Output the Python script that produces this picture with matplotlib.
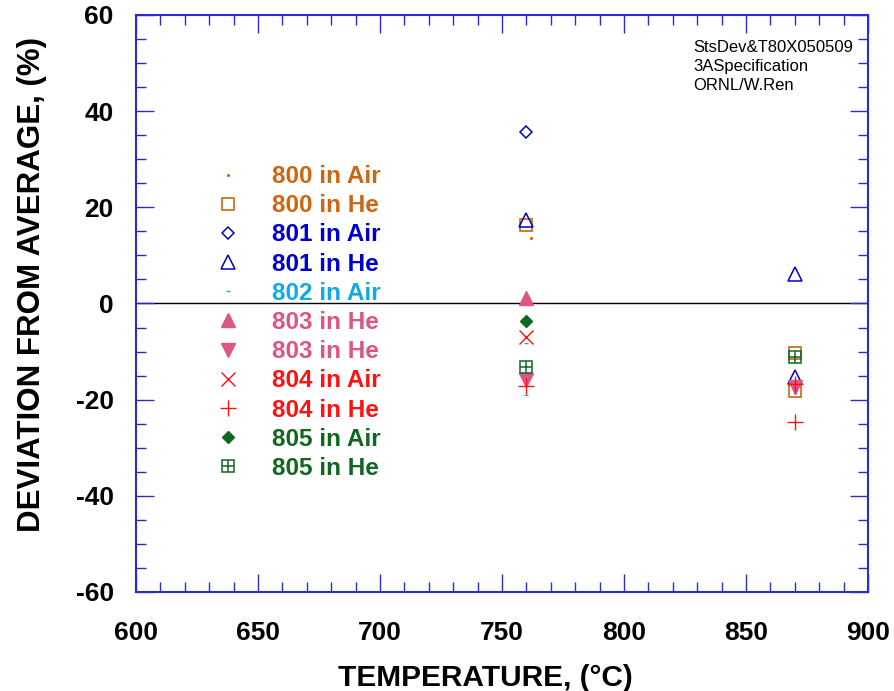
import matplotlib
matplotlib.use("Agg")
import matplotlib.pyplot as plt
from matplotlib.legend_handler import HandlerTuple
from matplotlib.ticker import MultipleLocator

# ---- data ----
s800_air_x = [762]
s800_air_y = [13.6]
s800_he_x = [760, 870, 870]
s800_he_y = [16.3, -10.3, -18.3]
s801_air_x = [760]
s801_air_y = [35.7]
s801_he_x = [760, 870, 870]
s801_he_y = [17.4, 6.1, -15.2]
s802_air_x = [760, 760, 870]
s802_air_y = [-8.2, -19.0, -18.6]
s803_he_up_x = [760]
s803_he_up_y = [1.1]
s803_he_dn_x = [760, 870]
s803_he_dn_y = [-16.0, -17.4]
s804_air_x = [760]
s804_air_y = [-6.9]
s804_he_x = [760, 870, 870]
s804_he_y = [-17.1, -16.7, -24.6]
s805_air_x = [760]
s805_air_y = [-3.6]
s805_he_x = [760, 870]
s805_he_y = [-13.3, -11.1]

labels = ["800 in Air", "800 in He", "801 in Air", "801 in He", "802 in Air",
          "803 in He", "803 in He", "804 in Air", "804 in He", "805 in Air", "805 in He"]

C800 = "#CC6611"
C801 = "#0000CC"
C802 = "#11AAE6"
C803 = "#DB5585"
C804 = "#FF1111"
C805 = "#116622"
SPINE = "#2A2AD8"

plt.rcParams["font.family"] = ["Liberation Sans", "DejaVu Sans"]
plt.rcParams["axes.unicode_minus"] = False

fig = plt.figure(figsize=(8.94, 6.91), dpi=100)
ax = fig.add_axes([0.1521, 0.1433, 0.8188, 0.8350])

ax.axhline(0, color="black", lw=1.0, zorder=1)

h = []
h.append(ax.plot(s800_air_x, s800_air_y, ls="none", marker=".", ms=2.5, color=C800)[0])
h.append(ax.plot(s800_he_x, s800_he_y, ls="none", marker="s", ms=9, mfc="none", mec=C800, mew=1.2)[0])
h.append(ax.plot(s801_air_x, s801_air_y, ls="none", marker="D", ms=6.5, mfc="none", mec=C801, mew=1.1)[0])
h.append(ax.plot(s801_he_x, s801_he_y, ls="none", marker="^", ms=9.5, mfc="none", mec=C801, mew=1.1)[0])
h.append(ax.plot(s802_air_x, s802_air_y, ls="none", marker="_", ms=3, mec=C802, mew=1.0)[0])
h.append(ax.plot(s803_he_up_x, s803_he_up_y, ls="none", marker="^", ms=9.5, color=C803)[0])
h.append(ax.plot(s803_he_dn_x, s803_he_dn_y, ls="none", marker="v", ms=9.5, color=C803)[0])
h.append(ax.plot(s804_air_x, s804_air_y, ls="none", marker="x", ms=9.5, mec=C804, mew=1.0)[0])
h.append(ax.plot(s804_he_x, s804_he_y, ls="none", marker="+", ms=11, mec=C804, mew=1.0)[0])
h.append(ax.plot(s805_air_x, s805_air_y, ls="none", marker="D", ms=6.5, color=C805)[0])
sq = ax.plot(s805_he_x, s805_he_y, ls="none", marker="s", ms=9, mfc="none", mec=C805, mew=1.1)[0]
pl = ax.plot(s805_he_x, s805_he_y, ls="none", marker="+", ms=9, mec=C805, mew=1.1)[0]
h.append((sq, pl))

colors = [C800, C800, C801, C801, C802, C803, C803, C804, C804, C805, C805]
leg = ax.legend(h, labels, loc="upper left", bbox_to_anchor=(0.109, 0.740),
                frameon=False, numpoints=1, handlelength=1.0, handletextpad=1.31,
                labelspacing=0.255, borderpad=0, borderaxespad=0,
                prop={"family": "Liberation Sans", "weight": "bold", "size": 17.5},
                handler_map={tuple: HandlerTuple(ndivide=1, pad=0)})
for t, c in zip(leg.get_texts(), colors):
    t.set_color(c)

ax.set_xlim(600, 900)
ax.set_ylim(-60, 60)
ax.xaxis.set_major_locator(MultipleLocator(50))
ax.xaxis.set_minor_locator(MultipleLocator(10))
ax.yaxis.set_major_locator(MultipleLocator(20))
ax.yaxis.set_minor_locator(MultipleLocator(5))
ax.tick_params(which="both", direction="in", top=True, right=True, color=SPINE, width=1.0)
ax.tick_params(which="major", length=13, labelsize=19)
ax.tick_params(axis="x", which="major", pad=21)
ax.tick_params(axis="y", which="major", pad=16)
ax.tick_params(which="minor", length=7)
for lab in ax.get_xticklabels() + ax.get_yticklabels():
    lab.set_fontweight("bold")
for s in ax.spines.values():
    s.set_color(SPINE)
    s.set_linewidth(1.5)

ax.set_xlabel("TEMPERATURE, (°C)", fontweight="bold", fontsize=21.5)
ax.set_ylabel("DEVIATION FROM AVERAGE, (%)", fontweight="bold", fontsize=22.5)
ax.xaxis.set_label_coords(0.477, -0.124)
ax.yaxis.set_label_coords(-0.122, 0.533)

ax.text(0.761, 0.957, "StsDev&T80X050509\n3ASpecification\nORNL/W.Ren", transform=ax.transAxes,
        fontsize=12, va="top", ha="left", linespacing=1.33, family="Liberation Sans")

fig.savefig("out.png", dpi=100)
